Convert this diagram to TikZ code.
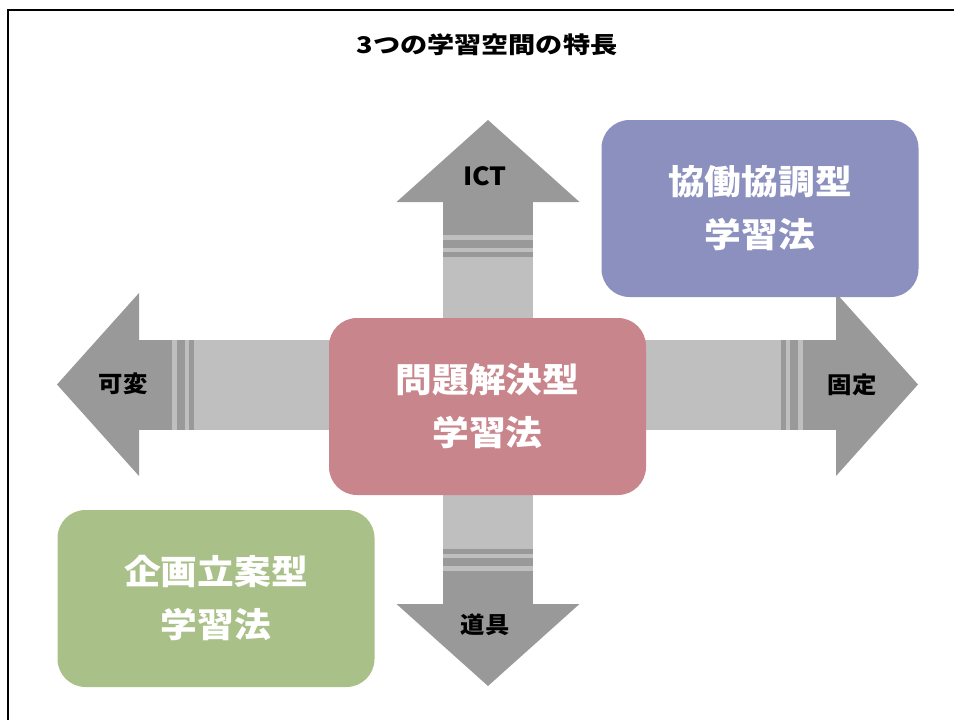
\documentclass[tikz,border=0pt]{standalone}
\usepackage{fontspec}
\newfontfamily\jptitle{Noto Sans CJK JP}[FakeStretch=1.18]
\newfontfamily\jplab{Noto Sans CJK JP}[FakeStretch=1.06]
\newfontfamily\jpbox{Noto Sans CJK JP}[FakeStretch=1.08]
\definecolor{armdark}{HTML}{999999}
\definecolor{armlight}{HTML}{BFBFBF}
\definecolor{boxpink}{HTML}{C8868C}
\definecolor{boxblue}{HTML}{8B90BE}
\definecolor{boxgreen}{HTML}{A9C189}
\tikzset{
  methodbox/.style={rounded corners=28pt, minimum width=317pt, minimum height=177pt,
    inner sep=0pt, align=center, text=white,
    font=\jpbox\bfseries\fontsize{34}{53}\selectfont},
  armlabel/.style={inner sep=0pt, text=black, font=\jplab\bfseries\fontsize{23}{27}\selectfont},
}
\begin{document}
\begin{tikzpicture}[x=1pt,y=-1pt]
\useasboundingbox (0,0) rectangle (954,720);
\fill[white] (0,0) rectangle (954,720);
\draw[line width=2pt] (954,10) -- (8,10) -- (8,720);
% four arms of the cross
\foreach \ang/\len in {0/430, 90/264.5, 180/431, 270/301.5}{
  \begin{scope}[shift={(488,384.5)}, rotate=\ang]
    \fill[armlight] (0,-45) rectangle (\len-82, 45);
    \fill[armdark] (\len-115,-45) rectangle (\len-82, 45);
    \fill[armdark] (\len-128,-45) rectangle (\len-120, 45);
    \fill[armdark] (\len-137,-45) rectangle (\len-132, 45);
    \fill[armdark] (\len-82,-91.5) -- (\len,0) -- (\len-82,91.5) -- cycle;
  \end{scope}
}
\node[armlabel, font=\jplab\bfseries\fontsize{25}{29}\selectfont] (ict) at (485,176) {ICT};
\node[armlabel] (kahen) at (123,384) {可変};
\node[armlabel] (kotei) at (852,385) {固定};
\node[armlabel] (dougu) at (485,625) {道具};
% method boxes
\node[methodbox, fill=boxpink] (mondai) at (487.5,406.5) {問題解決型\\学習法};
\node[methodbox, fill=boxblue] (kyodo) at (760,208.5) {協働協調型\\学習法};
\node[methodbox, fill=boxgreen] (kikaku) at (216,598.5) {企画立案型\\学習法};
% title
\node[inner sep=0pt, font=\jptitle\bfseries\fontsize{23}{27}\selectfont] (title) at (487,45) {3つの学習空間の特長};
\end{tikzpicture}
\end{document}
